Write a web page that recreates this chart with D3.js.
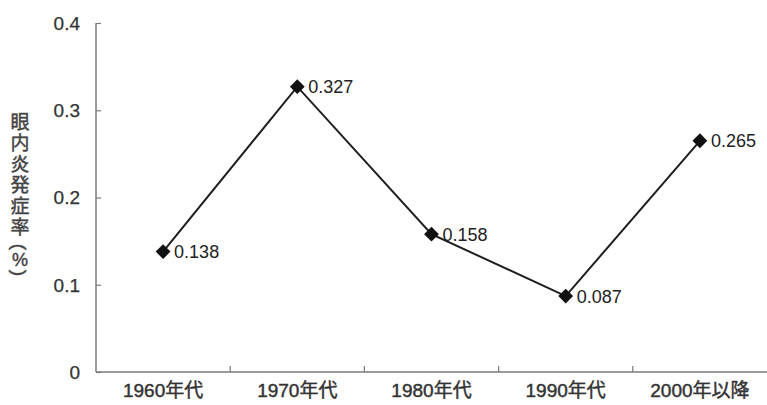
<!DOCTYPE html>
<html>
<head>
<meta charset="utf-8">
<script src="https://cdn.jsdelivr.net/npm/d3@7"></script>
<style>
  html, body { margin: 0; padding: 0; background: #fff; }
  svg { display: block; }
  text { font-family: "Liberation Sans", Arial, "Noto Sans CJK JP", sans-serif; }
</style>
</head>
<body>
<svg id="chart" width="767" height="405"></svg>
<script>
// Endophthalmitis incidence by decade
const categories = ["1960年代", "1970年代", "1980年代", "1990年代", "2000年以降"];
const rates = [0.138, 0.327, 0.158, 0.087, 0.265];
const rateLabels = ["0.138", "0.327", "0.158", "0.087", "0.265"];
const yTicks = [0, 0.1, 0.2, 0.3, 0.4];
const yTickLabels = ["0", "0.1", "0.2", "0.3", "0.4"];
const yTitleMain = "眼内炎発症率";
const yTitleUnit = ["(", "%", ")"];

const svg = d3.select("#chart");
const plotLeft = 96, plotRight = 767, plotTop = 23, plotBottom = 372;

const x = d3.scaleBand().domain(categories).range([plotLeft, plotRight]).paddingInner(0).paddingOuter(0);
const y = d3.scaleLinear().domain([0, 0.4]).range([plotBottom, plotTop]);

const axisColor = "#7a7a7a";

// y axis: inward ticks
const yAxis = svg.append("g").attr("transform", `translate(${plotLeft},0)`)
  .call(d3.axisRight(y).tickValues(yTicks).tickSize(5).tickFormat(""));
yAxis.select(".domain").attr("stroke", axisColor).attr("stroke-width", 1.5).attr("d", `M0,${plotTop}V${plotBottom}`);
yAxis.selectAll(".tick line").attr("stroke", axisColor).attr("stroke-width", 1.2);

svg.append("g").selectAll("text").data(yTicks).join("text")
  .attr("x", 80).attr("y", d => y(d)).attr("dy", "0.36em")
  .attr("text-anchor", "end").attr("font-size", 19).attr("fill", "#333")
  .attr("stroke", "#333").attr("stroke-width", 0.25)
  .text((d, i) => yTickLabels[i]);

// x axis: category boundaries marked with upward ticks
const bounds = categories.slice(1).map(c => x(c));
const xAxis = svg.append("g").attr("transform", `translate(0,${plotBottom})`);
xAxis.append("path").attr("d", `M${plotLeft},0H${plotRight}`).attr("stroke", axisColor).attr("stroke-width", 1.5).attr("fill", "none");
xAxis.selectAll("line").data(bounds).join("line")
  .attr("x1", d => d).attr("x2", d => d).attr("y1", 0).attr("y2", -6)
  .attr("stroke", axisColor).attr("stroke-width", 1.2);
xAxis.selectAll("text").data(categories).join("text")
  .attr("x", d => x(d) + x.bandwidth() / 2).attr("y", 25)
  .attr("text-anchor", "middle").attr("font-size", 19).attr("fill", "#333")
  .attr("stroke", "#333").attr("stroke-width", 0.45)
  .text(d => d);

// y axis title, set vertically
svg.append("text")
  .attr("x", 20).attr("y", 112)
  .attr("writing-mode", "vertical-rl")
  .attr("font-size", 19).attr("fill", "#444")
  .attr("stroke", "#444").attr("stroke-width", 0.45)
  .style("font-family", "'Noto Sans CJK JP', sans-serif")
  .style("letter-spacing", "2px")
  .text(yTitleMain);

// unit below the title: brackets turned a quarter, percent sign upright
const unitY = [247, 260, 273];
svg.append("g").selectAll("text").data(yTitleUnit).join("text")
  .attr("transform", (c, i) => `translate(20,${unitY[i]})` + (c === "%" ? "" : " rotate(90)"))
  .attr("text-anchor", "middle").attr("dy", "0.35em")
  .attr("font-size", (c) => c === "%" ? 18 : 19).attr("fill", "#444")
  .attr("stroke", "#444").attr("stroke-width", 0.45)
  .text(c => c);

// line and markers
const cx = d => x(d) + x.bandwidth() / 2;
const line = d3.line().x(d => cx(d[0])).y(d => y(d[1]));
const pts = categories.map((c, i) => [c, rates[i]]);
svg.append("path").datum(pts).attr("d", line)
  .attr("fill", "none").attr("stroke", "#1e1e1e").attr("stroke-width", 2);

const diamond = d3.symbol().type(d3.symbolSquare).size(110);
svg.append("g").selectAll("path").data(pts).join("path")
  .attr("d", diamond)
  .attr("transform", d => `translate(${cx(d[0])},${y(d[1])}) rotate(45)`)
  .attr("fill", "#111");

svg.append("g").selectAll("text").data(pts).join("text")
  .attr("x", d => cx(d[0]) + 11).attr("y", d => y(d[1])).attr("dy", "0.36em")
  .attr("font-size", 18).attr("fill", "#222")
  .text((d, i) => rateLabels[i]);
</script>
</body>
</html>
